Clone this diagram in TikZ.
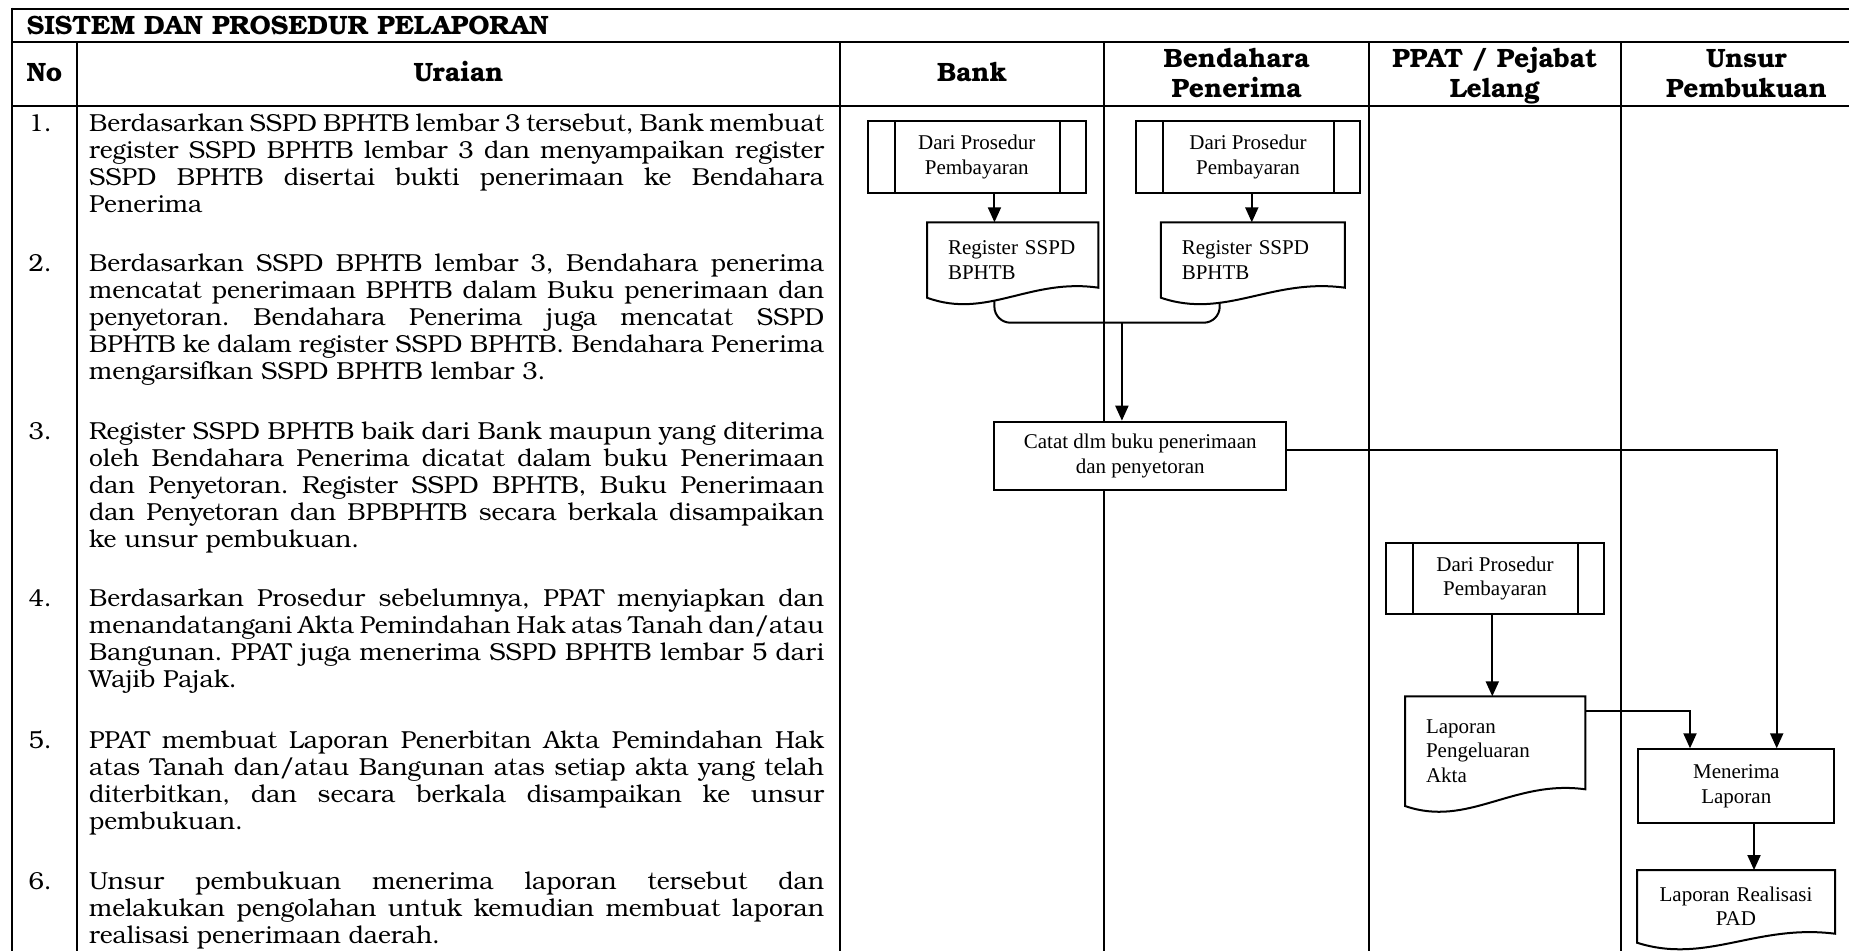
\documentclass[tikz,border=0pt]{standalone}
\usepackage{fontspec}
\setmainfont{TeX Gyre Bonum}
\newfontfamily\fcfont{Liberation Serif}
\usetikzlibrary{arrows.meta,calc}
\pgfdeclarelayer{grid}
\pgfdeclarelayer{links}
\pgfdeclarelayer{paper}
\pgfsetlayers{grid,links,paper,main}
\frenchspacing

% one justified line of a description row
\newcommand\jl[1]{\hbox to\hsize{#1}}
% a description block whose baseline is its first line
\newcommand\rowbox[1]{\vtop{\hsize=735pt #1}}
% two centred header lines, baseline on the first one
\newcommand\twoline[2]{\vtop{\baselineskip=30pt\halign{\hfil##\hfil\cr #1\cr #2\cr}}}
% outline of a document symbol drawn round a node; #2 = rise of the right corner
\newcommand\docoutline[2]{%
  \begin{pgfonlayer}{paper}
    \draw[link, fill=white]
      (#1.south west) -- (#1.north west) -- (#1.north east) -- ([yshift=#2]#1.south east)
      .. controls ($(#1.south west)!0.6!(#1.south east)+(0pt,#2+10pt)$)
         and ($(#1.south west)!0.35!(#1.south east)+(0pt,-22pt)$) .. (#1.south west) -- cycle;
  \end{pgfonlayer}}

\begin{document}
\begin{tikzpicture}[x=1pt,y=-1pt,
  tline/.style={line width=2.5pt},
  gline/.style={line width=2pt},
  link/.style={line width=2pt},
  arr/.style={link,-{Triangle[length=15pt,width=13pt]}},
  fc/.style={font=\fcfont\fontsize{21}{24.5}\selectfont, inner sep=0pt, line width=2pt},
  procbox/.style={fc, draw, fill=white, rectangle, align=center},
  predef/.style={procbox, path picture={
      \draw[line width=2pt]
        ([xshift=27pt]path picture bounding box.north west) -- ([xshift=27pt]path picture bounding box.south west)
        ([xshift=-26pt]path picture bounding box.north east) -- ([xshift=-26pt]path picture bounding box.south east);}},
  docbox/.style={fc, rectangle, inner ysep=0pt},
  hdr/.style={font=\bfseries\fontsize{26.5}{30}\selectfont, inner sep=0pt},
  body/.style={font=\fontsize{24.6}{27}\selectfont, inner sep=0pt},
]
\useasboundingbox (0,0) rectangle (1849,950);

% ---------- table frame ----------
\begin{pgfonlayer}{grid}
  \draw[tline] (12,9) -- (1870,9);
  \draw[tline] (12,42) -- (1870,42);
  \draw[tline] (12,106) -- (1870,106);
  \draw[tline] (12,7.75) -- (12,960);
  \draw[gline] (77,42) -- (77,960);
  \draw[gline] (840,42) -- (840,960);
  \draw[gline] (1104,42) -- (1104,960);
  \draw[gline] (1369,42) -- (1369,960);
  \draw[gline] (1621,42) -- (1621,960);
\end{pgfonlayer}

% ---------- headings ----------
\node[hdr, anchor=base west] (title) at (26.7,35) {SISTEM DAN PROSEDUR PELAPORAN};
\node[hdr, anchor=base] (hno) at (44.5,81.7) {No};
\node[hdr, anchor=base] (hur) at (458.5,81.7) {Uraian};
\node[hdr, anchor=base] (hbank) at (972.2,81.7) {Bank};
\node[hdr, anchor=base] (hbend) at (1236.7,67.5) {\twoline{Bendahara}{Penerima}};
\node[hdr, anchor=base] (hppat) at (1494.8,67.5) {\twoline{PPAT / Pejabat}{Lelang}};
\node[hdr, anchor=base] (hunsur) at (1746.5,67.5) {\twoline{Unsur}{Pembukuan}};

% ---------- numbers ----------
\node[body, anchor=base west] (n1) at (28.3,131) {1.};
\node[body, anchor=base west] (n2) at (28.3,271) {2.};
\node[body, anchor=base west] (n3) at (28.3,439) {3.};
\node[body, anchor=base west] (n4) at (28.3,606.5) {4.};
\node[body, anchor=base west] (n5) at (28.3,748) {5.};
\node[body, anchor=base west] (n6) at (28.3,889) {6.};

% ---------- descriptions ----------
\node[body, anchor=base west] (u1) at (89,131) {\rowbox{%
  \jl{Berdasarkan SSPD BPHTB lembar 3 tersebut, Bank membuat}%
  \jl{register SSPD BPHTB lembar 3 dan menyampaikan register}%
  \jl{SSPD BPHTB disertai bukti penerimaan ke Bendahara}%
  \hbox{Penerima}}};
\node[body, anchor=base west] (u2) at (89,271) {\rowbox{%
  \jl{Berdasarkan SSPD BPHTB lembar 3, Bendahara penerima}%
  \jl{mencatat penerimaan BPHTB dalam Buku penerimaan dan}%
  \jl{penyetoran. Bendahara Penerima juga mencatat SSPD}%
  \jl{BPHTB ke dalam register SSPD BPHTB. Bendahara Penerima}%
  \hbox{mengarsifkan SSPD BPHTB lembar 3.}}};
\node[body, anchor=base west] (u3) at (89,439) {\rowbox{%
  \jl{Register SSPD BPHTB baik dari Bank maupun yang diterima}%
  \jl{oleh Bendahara Penerima dicatat dalam buku Penerimaan}%
  \jl{dan Penyetoran. Register SSPD BPHTB, Buku Penerimaan}%
  \jl{dan Penyetoran dan BPBPHTB secara berkala disampaikan}%
  \hbox{ke unsur pembukuan.}}};
\node[body, anchor=base west] (u4) at (89,606.5) {\rowbox{%
  \jl{Berdasarkan Prosedur sebelumnya, PPAT menyiapkan dan}%
  \jl{menandatangani Akta Pemindahan Hak atas Tanah dan/atau}%
  \jl{Bangunan. PPAT juga menerima SSPD BPHTB lembar 5 dari}%
  \hbox{Wajib Pajak.}}};
\node[body, anchor=base west] (u5) at (89,748) {\rowbox{%
  \jl{PPAT membuat Laporan Penerbitan Akta Pemindahan Hak}%
  \jl{atas Tanah dan/atau Bangunan atas setiap akta yang telah}%
  \jl{diterbitkan, dan secara berkala disampaikan ke unsur}%
  \hbox{pembukuan.}}};
\node[body, anchor=base west] (u6) at (89,889) {\rowbox{%
  \jl{Unsur pembukuan menerima laporan tersebut dan}%
  \jl{melakukan pengolahan untuk kemudian membuat laporan}%
  \hbox{realisasi penerimaan daerah.}}};

% ---------- flow symbols ----------
\node[predef, minimum width=218.1pt, minimum height=72.3pt] (bankdari) at (976.75,157.15) {Dari Prosedur\\Pembayaran};
\node[predef, minimum width=224pt, minimum height=72.3pt] (benddari) at (1248,157.15) {Dari Prosedur\\Pembayaran};
\node[docbox, text width=129.4pt, inner xsep=20pt, align=left, minimum height=73.4pt] (bankdoc) at (1012.7,260) {Register SSPD\\BPHTB};
\node[docbox, text width=142.1pt, inner xsep=20pt, align=left, minimum height=73.4pt] (benddoc) at (1252.85,260) {Register SSPD\\BPHTB};
\docoutline{bankdoc}{10pt}
\docoutline{benddoc}{10pt}
\node[procbox, minimum width=291.6pt, minimum height=68.3pt] (catat) at (1140.2,455.85) {Catat dlm buku penerimaan\\dan penyetoran};
\node[predef, minimum width=218pt, minimum height=70.7pt] (ppatdari) at (1495,578.65) {Dari Prosedur\\Pembayaran};
\node[docbox, text width=138.3pt, inner xsep=20pt, align=left, minimum height=107.7pt] (ppatdoc) at (1495.15,751.15) {Laporan\\Pengeluaran\\Akta};
\docoutline{ppatdoc}{16.7pt}
\node[procbox, minimum width=196pt, minimum height=74pt] (menerima) at (1736.3,786.3) {Menerima\\Laporan};
\node[docbox, text width=180pt, inner xsep=8pt, align=center, minimum height=70.7pt] (paddoc) at (1736,906.35) {Laporan Realisasi\\PAD};
\docoutline{paddoc}{9pt}

% ---------- connectors ----------
\coordinate (merge) at (1121.9,322.7);
\begin{pgfonlayer}{links}
  \draw[arr] ([xshift=17.7pt]bankdari.south) -- ([xshift=17.7pt]bankdari.south |- bankdoc.north);
  \draw[arr] ([xshift=3.8pt]benddari.south) -- ([xshift=3.8pt]benddari.south |- benddoc.north);
  \draw[link, rounded corners=16pt] ([xshift=-18.3pt]bankdoc.south) |- (merge) -| ([xshift=-33.15pt]benddoc.south);
  \draw[arr] (merge) -- (merge |- catat.north);
  \draw[arr] ([yshift=6pt]catat.east) -| ([xshift=40.4pt]menerima.north);
  \draw[arr] ([xshift=-2.7pt]ppatdari.south) -- ([xshift=-2.7pt]ppatdari.south |- ppatdoc.north);
  \draw[arr] ([yshift=-14.4pt]ppatdoc.north east) -| ([xshift=-46.3pt]menerima.north);
  \draw[arr] ([xshift=17.7pt]menerima.south) -- ([xshift=17.7pt]menerima.south |- paddoc.north);
\end{pgfonlayer}
\end{tikzpicture}
\end{document}
